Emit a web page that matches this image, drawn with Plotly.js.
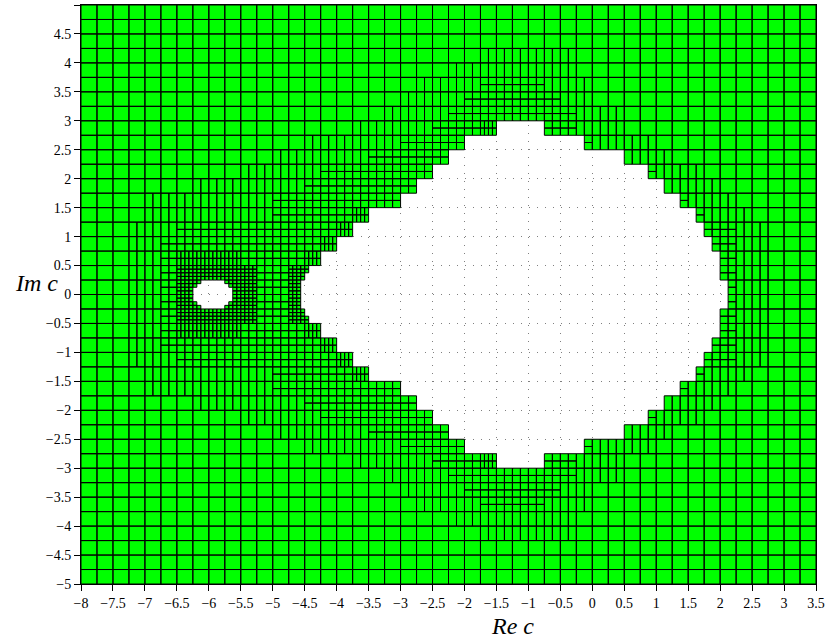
<!DOCTYPE html>
<html><head><meta charset="utf-8">
<script src="https://cdn.plot.ly/plotly-3.0.1.min.js"></script>
<style>html,body{margin:0;padding:0;background:#fff}</style>
</head><body><div id="chart" style="width:825px;height:643px"></div>
<script>
// ---- data ----
const xRange = [-8, 3.5];
const yRange = [-5, 5];
const cellSize = 0.25;
// tick labels
const xTickVals = [-8,-7.5,-7,-6.5,-6,-5.5,-5,-4.5,-4,-3.5,-3,-2.5,-2,-1.5,-1,-0.5,0,0.5,1,1.5,2,2.5,3,3.5];
const yTickVals = [-5,-4.5,-4,-3.5,-3,-2.5,-2,-1.5,-1,-0.5,0,0.5,1,1.5,2,2.5,3,3.5,4,4.5,5];

// boundary of the large white region (vertices, clockwise)
const setX = [-1.5,-0.75,-0.75,-0.125,-0.125,0.5,0.5,0.875,0.875,1.125,
  1.125,1.375,1.375,1.625,1.625,1.75,1.75,1.875,1.875,2.0,
  2.0,2.125,2.125,2.0,2.0,1.875,1.875,1.75,1.75,1.625,
  1.625,1.375,1.375,1.125,1.125,0.875,0.875,0.5,0.5,-0.125,
  -0.125,-0.75,-0.75,-1.5,-1.5,-2.0,-2.0,-2.25,-2.25,-2.5,
  -2.5,-2.75,-2.75,-3.0,-3.0,-3.5,-3.5,-3.75,-3.75,-4.0,
  -4.0,-4.25,-4.25,-4.4375,-4.4375,-4.5,-4.5,-4.5625,-4.5625,-4.5,
  -4.5,-4.4375,-4.4375,-4.25,-4.25,-4.0,-4.0,-3.75,-3.75,-3.5,
  -3.5,-3.0,-3.0,-2.75,-2.75,-2.5,-2.5,-2.25,-2.25,-2.0,
  -2.0,-1.5];
const setY = [3.0,3.0,2.75,2.75,2.5,2.5,2.25,2.25,2.0,2.0,
  1.75,1.75,1.5,1.5,1.25,1.25,1.0,1.0,0.75,0.75,
  0.25,0.25,-0.25,-0.25,-0.75,-0.75,-1.0,-1.0,-1.25,-1.25,
  -1.5,-1.5,-1.75,-1.75,-2.0,-2.0,-2.25,-2.25,-2.5,-2.5,
  -2.75,-2.75,-3.0,-3.0,-2.75,-2.75,-2.5,-2.5,-2.25,-2.25,
  -2.0,-2.0,-1.75,-1.75,-1.5,-1.5,-1.25,-1.25,-1.0,-1.0,
  -0.75,-0.75,-0.5,-0.5,-0.375,-0.375,-0.25,-0.25,0.25,0.25,
  0.375,0.375,0.5,0.5,0.75,0.75,1.0,1.0,1.25,1.25,
  1.5,1.5,1.75,1.75,2.0,2.0,2.25,2.25,2.5,2.5,
  2.75,2.75];

// small white island near -5.9
const holeX = [-6.125,-5.75,-5.75,-5.6875,-5.6875,-5.625,-5.625,-5.6875,-5.6875,-5.75,
  -5.75,-6.125,-6.125,-6.1875,-6.1875,-6.25,-6.25,-6.1875,-6.1875,-6.125];
const holeY = [0.25,0.25,0.1875,0.1875,0.125,0.125,-0.125,-0.125,-0.1875,-0.1875,
  -0.25,-0.25,-0.1875,-0.1875,-0.125,-0.125,0.125,0.125,0.1875,0.1875];

// mesh refinement per row of 0.25-cells (run-length: count+code), top row first
// . whole cell, v 2 columns, b 2x2, X 4x2, B 4x4, _ no cell
const meshRows = [
"46.",
"46.",
"46.",
"25. 6v 15.",
"23. 8v 15.",
"21. 4v 4b 3v 14.",
"20. 4v 6b 2v 14.",
"19. 4v 8b 3v 12.",
"17. 5v 3b 1X 3_ 2b 3v 12.",
"14. 6v 4b 7_ 1b 4v 10.",
"12. 6v 5b 11_ 3v 9.",
"10. 5v 7b 13_ 1b 3v 7.",
"7. 7v 7b 15_ 4v 6.",
"4. 8v 8b 17_ 1b 3v 5.",
"4. 8v 5b 1X 20_ 1b 3v 4.",
"3. 3v 10b 1X 22_ 2b 2v 3.",
"3. 2v 10b 1X 23_ 2b 2v 3.",
"3. 2v 1b 4X 4b 1X 25_ 1b 2v 3.",
"3. 2v 1b 5B 2b 2B 25_ 1b 2v 3.",
"3. 2v 1b 5B 2b 2B 25_ 1b 2v 3.",
"3. 2v 1b 5B 2b 2B 25_ 1b 2v 3.",
"3. 2v 1b 5B 2b 2B 25_ 1b 2v 3.",
"3. 2v 1b 4X 4b 1X 25_ 1b 2v 3.",
"3. 2v 10b 1X 23_ 2b 2v 3.",
"3. 3v 10b 1X 22_ 2b 2v 3.",
"4. 8v 5b 1X 20_ 1b 3v 4.",
"4. 8v 8b 17_ 1b 3v 5.",
"7. 7v 7b 15_ 4v 6.",
"10. 5v 7b 13_ 1b 3v 7.",
"12. 6v 5b 11_ 3v 9.",
"14. 6v 4b 7_ 1b 4v 10.",
"17. 5v 3b 1X 3_ 2b 3v 12.",
"19. 4v 8b 3v 12.",
"20. 4v 6b 2v 14.",
"21. 4v 4b 3v 14.",
"23. 8v 15.",
"25. 6v 15.",
"46.",
"46.",
"46."
];
const splitCodes = {'.':[1,1],'v':[2,1],'h':[1,2],'b':[2,2],'q':[4,1],'X':[4,2],'B':[4,4]};

// ---- build ----
function inside(px, py, xs, ys){
  let c = false;
  for (let i = 0, j = xs.length - 1; i < xs.length; j = i++){
    if (((ys[i] > py) !== (ys[j] > py)) &&
        (px < (xs[j]-xs[i])*(py-ys[i])/(ys[j]-ys[i]) + xs[i])) c = !c;
  }
  return c;
}
function expandRow(s){
  const out = [];
  s.trim().split(/\s+/).forEach(tok => {
    const n = parseInt(tok, 10), code = tok.replace(/^\d+/, '');
    for (let k = 0; k < n; k++) out.push(code);
  });
  return out;
}

// green area: outer box (counter-clockwise) with the white regions as holes
const fillX = [xRange[0], xRange[0], xRange[1], xRange[1], xRange[0], null]
  .concat(setX, [setX[0], null], holeX, [holeX[0]]);
const fillY = [yRange[1], yRange[0], yRange[0], yRange[1], yRange[1], null]
  .concat(setY, [setY[0], null], holeY, [holeY[0]]);

const meshX = [], meshY = [];
meshRows.forEach((row, j) => {
  const codes = expandRow(row);
  codes.forEach((code, i) => {
    if (!splitCodes[code]) return;
    const [nx, ny] = splitCodes[code];
    const x0 = xRange[0] + i*cellSize, yTop = yRange[1] - j*cellSize;
    const w = cellSize/nx, h = cellSize/ny;
    for (let a = 0; a < nx; a++) for (let b = 0; b < ny; b++){
      const sx0 = x0 + a*w, sx1 = sx0 + w, sy1 = yTop - b*h, sy0 = sy1 - h;
      const cx = (sx0+sx1)/2, cy = (sy0+sy1)/2;
      if (inside(cx, cy, setX, setY) || inside(cx, cy, holeX, holeY)) continue;
      meshX.push(sx0, sx1, sx1, sx0, sx0, null);
      meshY.push(sy0, sy0, sy1, sy1, sy0, null);
    }
  });
});

const traces = [
  {type:'scatter', mode:'lines', x:fillX, y:fillY, fill:'toself', fillcolor:'#00ff00',
   line:{width:0, color:'rgba(0,0,0,0)'}, hoverinfo:'skip', connectgaps:false},
  {type:'scatter', mode:'lines', x:meshX, y:meshY, line:{color:'#000', width:1, simplify:false},
   hoverinfo:'skip', connectgaps:false}
];

const serif = '"Liberation Serif", "Times New Roman", serif';
const axisCommon = {
  ticks:'outside', ticklen:6, tickwidth:1, tickcolor:'#000',
  showgrid:true, gridcolor:'#808080', gridwidth:1, griddash:'1px,7px',
  zeroline:false, showline:true, linecolor:'#000', linewidth:1, mirror:true,
  automargin:false, fixedrange:true, tickfont:{family:serif, size:14, color:'#000'}
};
const layout = {
  width:825, height:643,
  margin:{l:81, r:9, t:5, b:59, pad:0},
  paper_bgcolor:'#fff', plot_bgcolor:'#fff', showlegend:false,
  font:{family:serif, size:14, color:'#000'},
  xaxis:Object.assign({}, axisCommon, {range:xRange, tickmode:'array', tickvals:xTickVals}),
  yaxis:Object.assign({}, axisCommon, {range:yRange, tickmode:'array', tickvals:yTickVals}),
  annotations:[
    {text:'<i>Re c</i>', xref:'x', x:-1.25, yref:'paper', y:-0.047, xanchor:'center', yanchor:'top',
     showarrow:false, font:{family:serif, size:24, color:'#000'}},
    {text:'<i>Im c</i>', xref:'paper', x:-0.029, yref:'y', y:0.2, xanchor:'right', yanchor:'middle',
     showarrow:false, font:{family:serif, size:24, color:'#000'}}
  ]
};
Plotly.newPlot('chart', traces, layout, {staticPlot:true, displayModeBar:false});
</script>
</body></html>
